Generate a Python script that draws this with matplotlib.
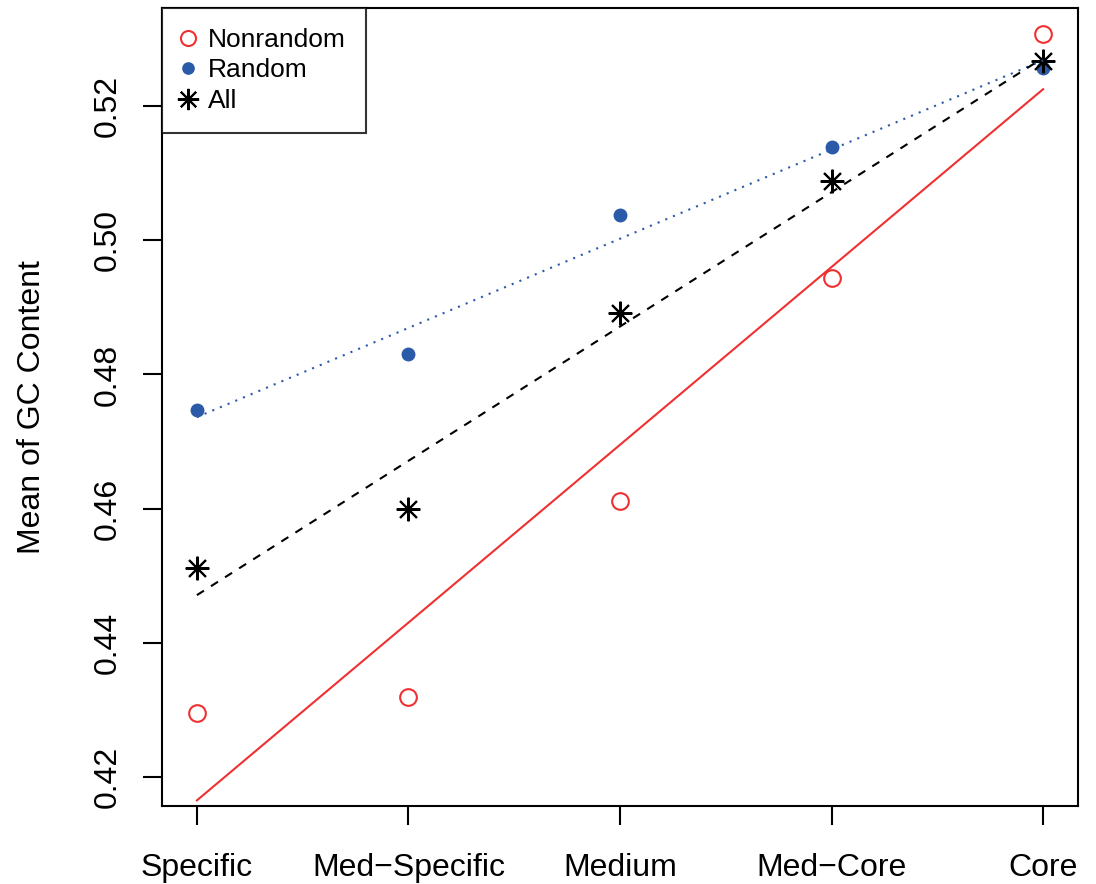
"""
    Mean GC content by gene category, with linear fits
"""

import matplotlib
matplotlib.use('Agg')
import matplotlib.pyplot as plt
import numpy as np

plt.rcParams['font.family'] = ['Liberation Sans', 'DejaVu Sans']

categories = ['Specific', 'Med\u2212Specific', 'Medium', 'Med\u2212Core', 'Core']
nonrandom = [0.4295, 0.4319, 0.4611, 0.4944, 0.5307]
random_gc = [0.4747, 0.4830, 0.5038, 0.5139, 0.5257]
all_gc = [0.4511, 0.4599, 0.4892, 0.5088, 0.5267]

RED = '#f03030'
BLUE = '#2b5aa8'
FS = 23

x = np.arange(1, len(categories) + 1)

fig = plt.figure(figsize=(10.96, 8.84), dpi=100)
ax = fig.add_axes([0.1478, 0.0882, 0.9836 - 0.1478, 0.991 - 0.0882])


def fit(y):
    b, a = np.polyfit(x, y, 1)
    return a + b * x


ax.plot(x, nonrandom, 'o', mfc='none', mec=RED, ms=12, mew=1.5, label='Nonrandom')
ax.plot(x, random_gc, 'o', color=BLUE, ms=9, label='Random')
ax.plot(x, all_gc, marker=(8, 2, 0), ls='none', color='black', ms=17, mew=1.5, label='All')

ax.plot(x[[0, -1]], fit(nonrandom)[[0, -1]], color=RED, lw=1.5)
ax.plot(x[[0, -1]], fit(random_gc)[[0, -1]], color=BLUE, lw=1.5, ls=(0, (1, 3)))
ax.plot(x[[0, -1]], fit(all_gc)[[0, -1]], color='black', lw=1.5, ls=(0, (4, 4)))

ax.set_xlim(0.835, 5.165)
ax.set_ylim(0.4157, 0.5346)
ax.set_xticks(x)
ax.set_xticklabels(categories, fontsize=FS)
ax.set_yticks([0.42, 0.44, 0.46, 0.48, 0.50, 0.52])
ax.set_yticklabels(['0.42', '0.44', '0.46', '0.48', '0.50', '0.52'],
                   rotation=90, va='center', fontsize=FS)
ax.tick_params(length=14, width=1.5)
ax.tick_params(axis='y', pad=14)
ax.tick_params(axis='x', pad=20)
for s in ax.spines.values():
    s.set_linewidth(1.5)
ax.set_ylabel('Mean of GC Content', fontsize=FS, labelpad=33)

leg = ax.legend(loc='upper left', fontsize=19, frameon=True, fancybox=False,
                borderaxespad=0, handletextpad=0.5, borderpad=0.75,
                labelspacing=0.25, handlelength=0.5, markerscale=0.9)
leg.get_frame().set_edgecolor('black')
leg.get_frame().set_linewidth(1.5)

fig.savefig('out.png', dpi=100)
